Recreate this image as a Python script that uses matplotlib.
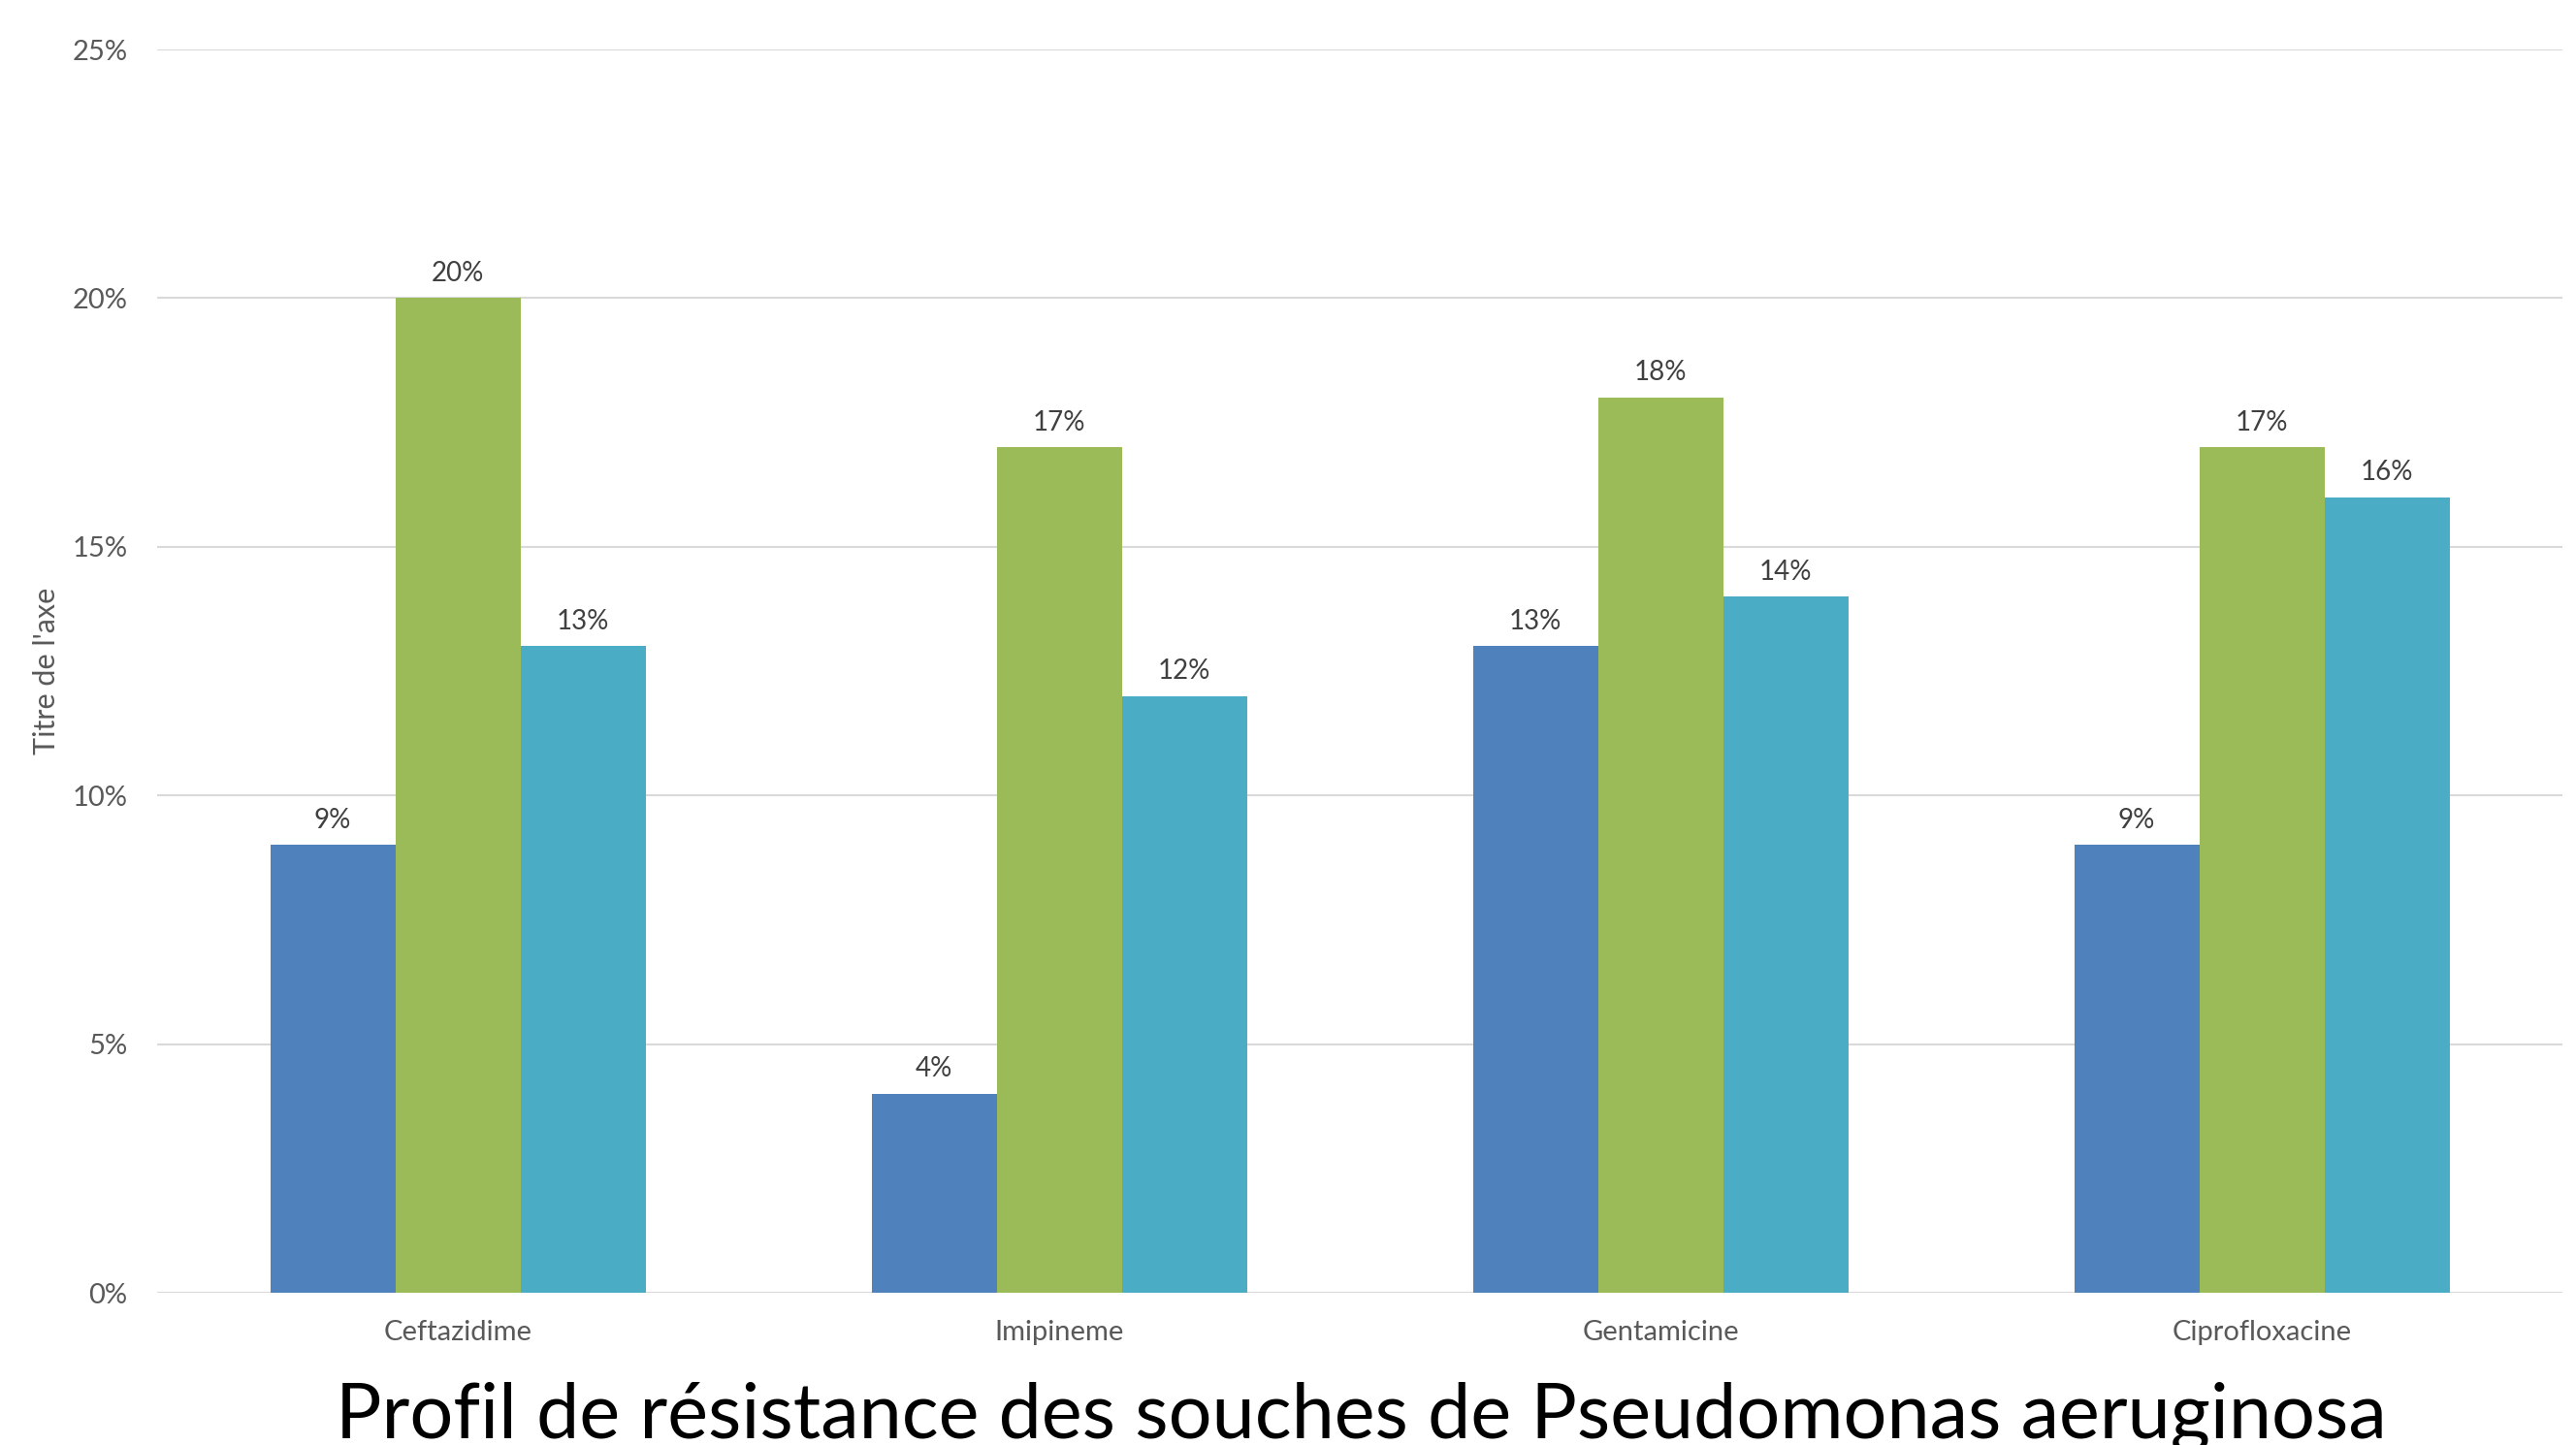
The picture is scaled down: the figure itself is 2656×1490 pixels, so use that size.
""" Resistance profile chart

"""

# --------------------------------------------------
#   Imports
# --------------------------------------------------

import numpy as np
import matplotlib
matplotlib.use("Agg")
import matplotlib.pyplot as plt
from matplotlib.ticker import PercentFormatter


# --------------------------------------------------
#   Data
# --------------------------------------------------

categories = ["Ceftazidime", "Imipineme", "Gentamicine", "Ciprofloxacine"]
serie1 = [0.09, 0.04, 0.13, 0.09]
serie2 = [0.20, 0.17, 0.18, 0.17]
serie3 = [0.13, 0.12, 0.14, 0.16]
series_names = ["Série1", "Série2", "Série3"]
series_colors = ["#4F81BD", "#9BBB59", "#4BACC6"]
y_ticks = [0.0, 0.05, 0.10, 0.15, 0.20, 0.25]

title = "Profil de résistance des souches de Pseudomonas aeruginosa"
ylabel = "Titre de l'axe"


# --------------------------------------------------
#   Functions
# --------------------------------------------------

def plot_grouped_bars() -> None:
    plt.rcParams['font.family'] = ['Lato', 'DejaVu Sans']

    fig = plt.figure(figsize=(26.56, 14.90), dpi=100)
    ax = fig.add_axes([162 / 2656, 1 - 1333 / 1490, 2480 / 2656, 1282 / 1490])

    x = np.arange(len(categories))
    width = 129 / 620
    all_values = [serie1, serie2, serie3]
    for i, (values, name, color) in enumerate(zip(all_values, series_names, series_colors)):
        bars = ax.bar(x + (i - 1) * width, values, width, label=name, color=color, zorder=3)
        ax.bar_label(
            bars,
            labels=[f"{v:.0%}" for v in values],
            padding=9,
            fontsize=20,
            color="#404040",
        )

    ax.set_xlim(-0.5, len(categories) - 0.5)
    ax.set_ylim(0, 0.25)
    ax.set_yticks(y_ticks)
    ax.yaxis.set_major_formatter(PercentFormatter(1.0, decimals=0))
    ax.set_xticks(x)
    ax.set_xticklabels(categories)

    ax.tick_params(axis="y", length=0, pad=22, labelsize=21, labelcolor="#595959")
    ax.tick_params(axis="x", length=0, pad=20, labelsize=21, labelcolor="#595959")

    for spine in ax.spines.values():
        spine.set_visible(False)
    ax.grid(True, axis="y", color="#D9D9D9", linewidth=1.5, zorder=0)
    ax.set_axisbelow(True)

    fig.text(48 / 2656, 1 - 692 / 1490, ylabel, rotation=90, ha="center", va="center",
             fontsize=22, color="#595959")
    fig.text(1403 / 2656, 1 - 1482 / 1490, title, ha="center", va="baseline",
             fontsize=57, color="black")

    fig.savefig("out.png", dpi=100, facecolor="white")


if __name__ == "__main__":
    plot_grouped_bars()
